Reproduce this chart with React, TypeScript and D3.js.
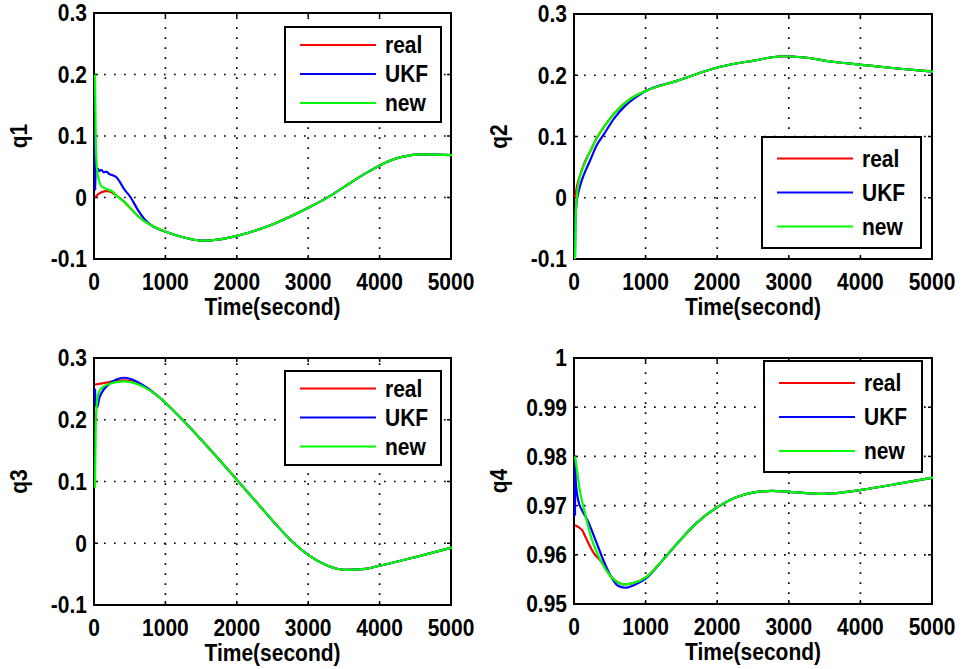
import * as d3 from 'd3';

const W = 966;
const H = 669;
const FONT = '"Liberation Sans", Arial, Helvetica, sans-serif';

const TIME_TICKS = [0, 1000, 2000, 3000, 4000, 5000];
const Q_TICKS = [-0.1, 0, 0.1, 0.2, 0.3];
const Q4_TICKS = [0.95, 0.96, 0.97, 0.98, 0.99, 1];
const SERIES = ['real', 'UKF', 'new'];
const COLORS = ['#ff0000', '#0000ff', '#00ff00'];
const X_LABEL = 'Time(second)';

type Pt = [number, number];

// q1 -- the three estimates merge after ~700 s
const q1Tail: Pt[] = [
  [800, -0.046], [1000, -0.056], [1250, -0.065], [1500, -0.07], [1750, -0.068],
  [2000, -0.062], [2500, -0.043], [3000, -0.016], [3300, 0.003], [3500, 0.018],
  [3800, 0.04], [4000, 0.053], [4300, 0.066], [4600, 0.07], [5000, 0.069],
];
const q1Real: Pt[] = [
  [0, 0], [50, 0.006], [100, 0.009], [150, 0.0105], [200, 0.01], [300, 0.003],
  [400, -0.006], [500, -0.018], [600, -0.03], ...q1Tail,
];
const q1Ukf: Pt[] = [
  [0, 0.11], [3, 0.012], [8, 0.05], [20, 0.042], [40, 0.047], [60, 0.043], [90, 0.045],
  [120, 0.041], [160, 0.042], [200, 0.038], [250, 0.036], [300, 0.033], [350, 0.025],
  [400, 0.015], [500, 0.0], [600, -0.02], [700, -0.036], ...q1Tail,
];
const q1New: Pt[] = [
  [0, 0.2], [10, 0.1], [25, 0.05], [50, 0.03], [80, 0.02], [120, 0.016], [180, 0.013],
  [250, 0.009], [300, 0.003], [400, -0.006], [500, -0.018], [600, -0.03], ...q1Tail,
];

// q2
const q2Tail: Pt[] = [
  [1000, 0.175], [1400, 0.19], [2000, 0.213], [2500, 0.224], [2900, 0.231],
  [3200, 0.229], [3600, 0.222], [4000, 0.217], [4500, 0.211], [5000, 0.206],
];
const q2Real: Pt[] = [
  [0, 0.0], [30, 0.02], [80, 0.04], [150, 0.062], [200, 0.073], [316, 0.1],
  [400, 0.115], [550, 0.138], [780, 0.162], ...q2Tail,
];
const q2Ukf: Pt[] = [
  [0, -0.1], [5, -0.04], [20, -0.01], [50, 0.01], [100, 0.03], [150, 0.045], [200, 0.058],
  [300, 0.085], [400, 0.103], [550, 0.13], [700, 0.15], [900, 0.168], ...q2Tail,
];
const q2New: Pt[] = [
  [0, -0.1], [10, -0.03], [25, 0.0], [50, 0.025], [100, 0.045], [150, 0.06], [200, 0.073],
  [316, 0.1], [400, 0.115], [550, 0.138], [780, 0.162], ...q2Tail,
];

// q3
const q3Tail: Pt[] = [
  [850, 0.241], [1000, 0.226], [1250, 0.197], [1500, 0.166], [1750, 0.134], [2000, 0.101],
  [2250, 0.068], [2500, 0.035], [2750, 0.004], [3000, -0.02], [3250, -0.036],
  [3500, -0.043], [3750, -0.042], [4000, -0.036], [4500, -0.022], [5000, -0.007],
];
const q3Real: Pt[] = [
  [0, 0.257], [100, 0.259], [200, 0.261], [300, 0.263], [400, 0.264], [500, 0.263],
  [700, 0.253], ...q3Tail,
];
const q3Ukf: Pt[] = [
  [0, 0.25], [10, 0.225], [30, 0.22], [60, 0.235], [100, 0.245], [200, 0.258],
  [300, 0.265], [400, 0.268], [500, 0.266], [700, 0.254], ...q3Tail,
];
const q3New: Pt[] = [
  [0, 0.09], [10, 0.19], [25, 0.225], [50, 0.243], [100, 0.252], [200, 0.258],
  [300, 0.261], [400, 0.262], [500, 0.261], [700, 0.252], ...q3Tail,
];

// q4
const q4Tail: Pt[] = [
  [363, 0.9587], [502, 0.9556], [683, 0.954], [800, 0.9542], [1000, 0.9555],
  [1200, 0.9585], [1428, 0.9623], [1700, 0.9665], [2000, 0.9698], [2250, 0.9717],
  [2500, 0.9727], [2750, 0.973], [3000, 0.9728], [3400, 0.9724], [3750, 0.9727],
  [4000, 0.9732], [4500, 0.9744], [5000, 0.9757],
];
const q4Real: Pt[] = [
  [0, 0.966], [100, 0.965], [150, 0.9635], [200, 0.962], [265, 0.9603], ...q4Tail,
];
const q4Ukf: Pt[] = [
  [0, 0.968], [2, 0.98], [10, 0.975], [46, 0.971], [100, 0.969], [176, 0.967],
  [270, 0.9636], [457, 0.9569], [600, 0.9537], [700, 0.9533], [850, 0.954],
  [1000, 0.9553], [1200, 0.9585], [1428, 0.9623], ...q4Tail.slice(7),
];
const q4New: Pt[] = [
  [0, 0.98], [30, 0.977], [60, 0.9737], [130, 0.969], [225, 0.9636], ...q4Tail,
];

const PANELS = [
  { label: 'q1', x: 94, y: 13, w: 357, h: 246, domain: [-0.1, 0.3], ticks: Q_TICKS,
    data: [q1Real, q1Ukf, q1New], legend: { x: 285, y: 27, w: 156, h: 95, row0: 18, step: 29 } },
  { label: 'q2', x: 574, y: 14, w: 358, h: 245, domain: [-0.1, 0.3], ticks: Q_TICKS,
    data: [q2Real, q2Ukf, q2New], legend: { x: 762, y: 137, w: 159, h: 111, row0: 21.5, step: 34 } },
  { label: 'q3', x: 94, y: 358, w: 357, h: 247, domain: [-0.1, 0.3], ticks: Q_TICKS,
    data: [q3Real, q3Ukf, q3New], legend: { x: 285, y: 371, w: 156, h: 94, row0: 17.5, step: 29 } },
  { label: 'q4', x: 574, y: 358, w: 358, h: 246, domain: [0.95, 1], ticks: Q4_TICKS,
    data: [q4Real, q4Ukf, q4New], legend: { x: 764, y: 361, w: 158, h: 111, row0: 22, step: 34 } },
];

const fmt = (v: number) => String(+v.toFixed(2));

// matlab's exported text is a bit taller than Arial, so stretch it vertically
function Txt({ x, y, anchor = 'start', rotate = 0, dy, children }: any) {
  return (
    <text
      transform={`translate(${x},${y}) rotate(${rotate}) scale(1,1.1)`}
      dy={dy}
      textAnchor={anchor}
      fontFamily={FONT}
      fontWeight="bold"
      fontSize={21}
      fill="#000"
    >
      {children}
    </text>
  );
}

function Panel({ p, idx }: { p: typeof PANELS[number]; idx: number }) {
  const x = d3.scaleLinear().domain([0, 5000]).range([p.x, p.x + p.w]);
  const y = d3.scaleLinear().domain(p.domain).range([p.y + p.h, p.y]);
  const line = d3.line<Pt>().x(d => x(d[0])).y(d => y(d[1])).curve(d3.curveMonotoneX);
  const bottom = p.y + p.h;
  const right = p.x + p.w;
  const clipId = `clip${idx}`;
  const lg = p.legend;
  return (
    <g>
      <defs>
        <clipPath id={clipId}>
          <rect x={p.x - 2} y={p.y - 2} width={p.w + 4} height={p.h + 4} />
        </clipPath>
      </defs>
      {/* dotted grid */}
      <g stroke="#000" strokeWidth={1.7} strokeDasharray="1.7,8.3">
        {TIME_TICKS.slice(1, -1).map(t => (
          <line key={`gx${t}`} x1={x(t)} x2={x(t)} y1={bottom} y2={p.y} />
        ))}
        {p.ticks.slice(1, -1).map(v => (
          <line key={`gy${v}`} x1={p.x} x2={right} y1={y(v)} y2={y(v)} />
        ))}
      </g>
      {/* box and inside ticks */}
      <rect x={p.x} y={p.y} width={p.w} height={p.h} fill="none" stroke="#000" strokeWidth={2} />
      <g stroke="#000" strokeWidth={1.5}>
        {TIME_TICKS.map(t => (
          <g key={`tx${t}`}>
            <line x1={x(t)} x2={x(t)} y1={bottom} y2={bottom - 4} />
            <line x1={x(t)} x2={x(t)} y1={p.y} y2={p.y + 4} />
          </g>
        ))}
        {p.ticks.map(v => (
          <g key={`ty${v}`}>
            <line x1={p.x} x2={p.x + 4} y1={y(v)} y2={y(v)} />
            <line x1={right} x2={right - 4} y1={y(v)} y2={y(v)} />
          </g>
        ))}
      </g>
      <g clipPath={`url(#${clipId})`} fill="none" strokeWidth={2.2} strokeLinejoin="round">
        {p.data.map((s, i) => (
          <path key={i} d={line(s) || ''} stroke={COLORS[i]} transform="translate(1,0)" />
        ))}
      </g>
      {TIME_TICKS.map(t => (
        <Txt key={`lx${t}`} x={x(t)} y={bottom + 31} anchor="middle">{t}</Txt>
      ))}
      {p.ticks.map(v => (
        <Txt key={`ly${v}`} x={p.x - 7} y={y(v)} dy="0.36em" anchor="end">{fmt(v)}</Txt>
      ))}
      <Txt x={p.x + p.w / 2} y={bottom + 56} anchor="middle">{X_LABEL}</Txt>
      <Txt x={p.x - 67} y={p.y + p.h / 2} rotate={-90} anchor="middle">{p.label}</Txt>
      {/* legend */}
      <rect x={lg.x} y={lg.y} width={lg.w} height={lg.h} fill="#fff" stroke="#000" strokeWidth={2} />
      {SERIES.map((name, i) => {
        const ry = lg.y + lg.row0 + i * lg.step;
        return (
          <g key={name}>
            <line x1={lg.x + 15} x2={lg.x + 91} y1={ry} y2={ry} stroke={COLORS[i]} strokeWidth={2} />
            <Txt x={lg.x + 100} y={ry} dy="0.36em">{name}</Txt>
          </g>
        );
      })}
    </g>
  );
}

export default function App() {
  return (
    <svg width={W} height={H} style={{ position: 'absolute', left: 0, top: 0, background: '#fff' }}>
      <rect width={W} height={H} fill="#fff" />
      {PANELS.map((p, i) => (
        <Panel key={p.label} p={p} idx={i} />
      ))}
    </svg>
  );
}
